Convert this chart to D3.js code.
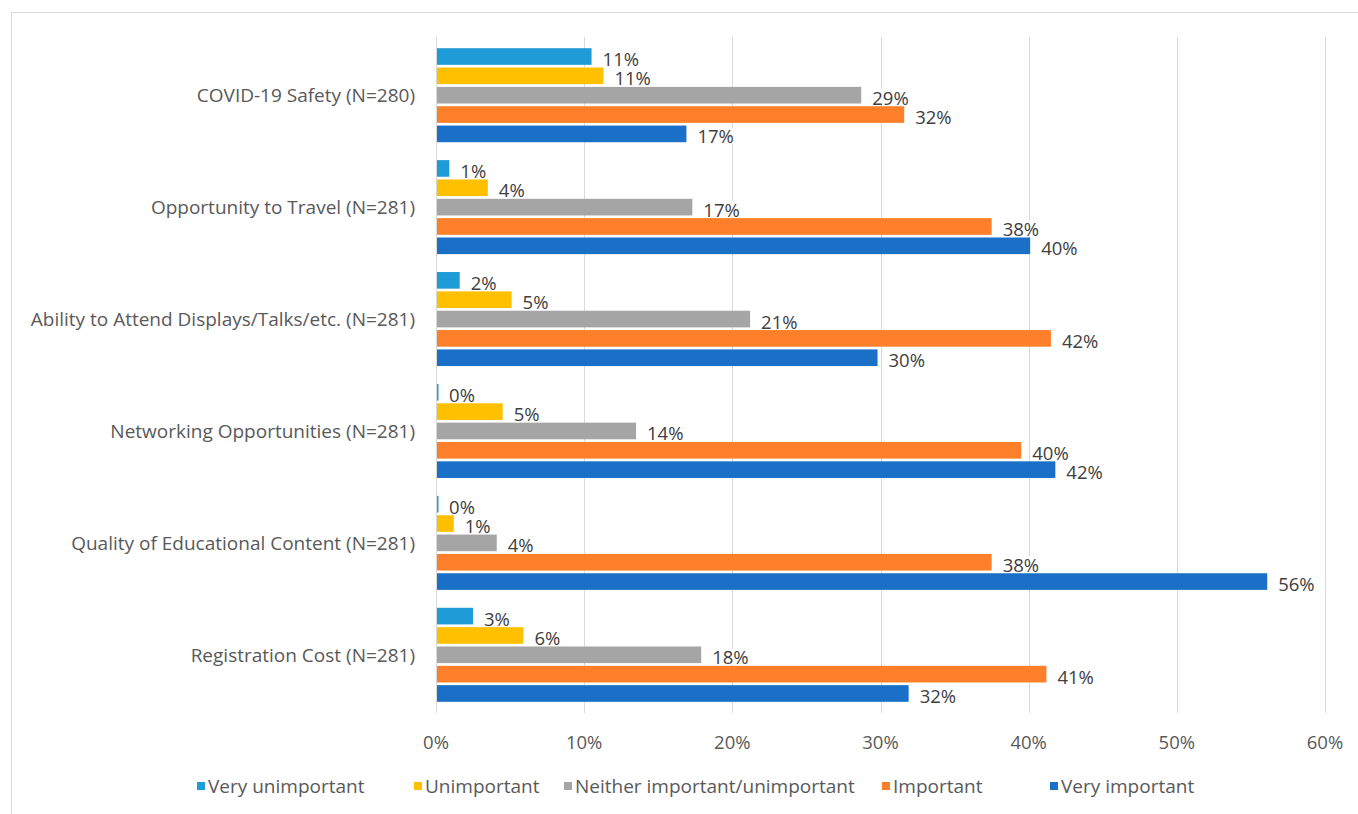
<!DOCTYPE html>
<html>
<head>
<meta charset="utf-8">
<script src="https://cdn.jsdelivr.net/npm/d3@7"></script>
<style>
  body { margin: 0; background: #fff; }
  svg text { font-family: "Open Sans", "Noto Sans", sans-serif; }
</style>
</head>
<body>
<svg id="chart" width="1358" height="814"></svg>
<script>
var categories = [
  "COVID-19 Safety (N=280)",
  "Opportunity to Travel (N=281)",
  "Ability to Attend Displays/Talks/etc. (N=281)",
  "Networking Opportunities (N=281)",
  "Quality of Educational Content (N=281)",
  "Registration Cost (N=281)"
];
var seriesNames = ["Very unimportant", "Unimportant", "Neither important/unimportant", "Important", "Very important"];
var seriesColors = ["#1f9bd7", "#ffc000", "#a5a5a5", "#fe7f2a", "#1a70c6"];

// values per series, in category order (fractions)
var veryUnimportant = [0.105, 0.009, 0.016, 0.0014, 0.0014, 0.025];
var unimportant     = [0.113, 0.035, 0.051, 0.045, 0.012, 0.059];
var neither         = [0.287, 0.173, 0.212, 0.135, 0.041, 0.179];
var important       = [0.316, 0.375, 0.415, 0.395, 0.375, 0.412];
var veryImportant   = [0.169, 0.401, 0.298, 0.418, 0.561, 0.319];
var ticks = [0, 0.1, 0.2, 0.3, 0.4, 0.5, 0.6];

var allSeries = [veryUnimportant, unimportant, neither, important, veryImportant];

var svg = d3.select("#chart");

// outer chart border
svg.append("rect")
  .attr("x", 11.5).attr("y", 12.5)
  .attr("width", 1400).attr("height", 900)
  .attr("fill", "none").attr("stroke", "#d9d9d9");

var x = d3.scaleLinear().domain([0, 0.6]).range([436, 1325]);
var y = d3.scaleBand().domain(categories).range([37, 713]).paddingInner(0.16).paddingOuter(0.1);
var ySub = d3.scaleBand().domain(d3.range(5)).range([0, y.bandwidth()]).paddingInner(0.14);

// gridlines
svg.append("g").selectAll("line")
  .data(ticks).join("line")
  .attr("x1", d => Math.round(x(d)) + 0.5).attr("x2", d => Math.round(x(d)) + 0.5)
  .attr("y1", 37).attr("y2", 713)
  .attr("stroke", "#d9d9d9").attr("stroke-width", 1);

// tick labels
svg.append("g").selectAll("text")
  .data(ticks).join("text")
  .attr("x", d => x(d)).attr("y", 741)
  .attr("text-anchor", "middle").attr("dominant-baseline", "central")
  .attr("font-size", 18.5).attr("fill", "#595959")
  .text(d => d3.format(".0%")(d));

// category labels
svg.append("g").selectAll("text")
  .data(categories).join("text")
  .attr("x", 415).attr("y", d => y(d) + y.bandwidth() / 2)
  .attr("text-anchor", "end").attr("dominant-baseline", "central")
  .attr("font-size", 19).attr("fill", "#595959")
  .text(d => d);

// bars + labels
var bars = [];
allSeries.forEach((vals, s) => {
  vals.forEach((v, i) => bars.push({s: s, cat: categories[i], v: v}));
});

svg.append("g").selectAll("rect")
  .data(bars).join("rect")
  .attr("x", x(0) + 1)
  .attr("y", d => y(d.cat) + ySub(d.s))
  .attr("width", d => Math.max(1.5, x(d.v) - x(0) - 1))
  .attr("height", ySub.bandwidth())
  .attr("fill", d => seriesColors[d.s]);

var lab = svg.append("g").selectAll("g")
  .data(bars).join("g")
  .attr("transform", d => "translate(" + (x(d.v) + 11) + "," + (y(d.cat) + ySub(d.s) + ySub.bandwidth() / 2 + 2) + ")");

lab.append("text")
  .attr("dominant-baseline", "central")
  .attr("font-size", 18.5).attr("fill", "#404040")
  .text(d => d3.format(".0%")(d.v));

lab.each(function() {
  var t = d3.select(this).select("text");
  var w = t.node().getComputedTextLength();
  d3.select(this).insert("rect", "text")
    .attr("x", -2).attr("y", -8).attr("width", w + 4).attr("height", 16)
    .attr("fill", "#fff");
});

// legend
var legendX = [197, 414, 564, 882, 1050];
var legend = svg.append("g");
var items = legend.selectAll("g").data(seriesNames).join("g")
  .attr("transform", (d, i) => "translate(" + legendX[i] + ",786)");
items.append("rect")
  .attr("width", 8).attr("height", 8).attr("y", -4)
  .attr("fill", (d, i) => seriesColors[i]);
items.append("text")
  .attr("x", 11).attr("dominant-baseline", "central")
  .attr("font-size", 19).attr("fill", "#595959")
  .text(d => d);
</script>
</body>
</html>
